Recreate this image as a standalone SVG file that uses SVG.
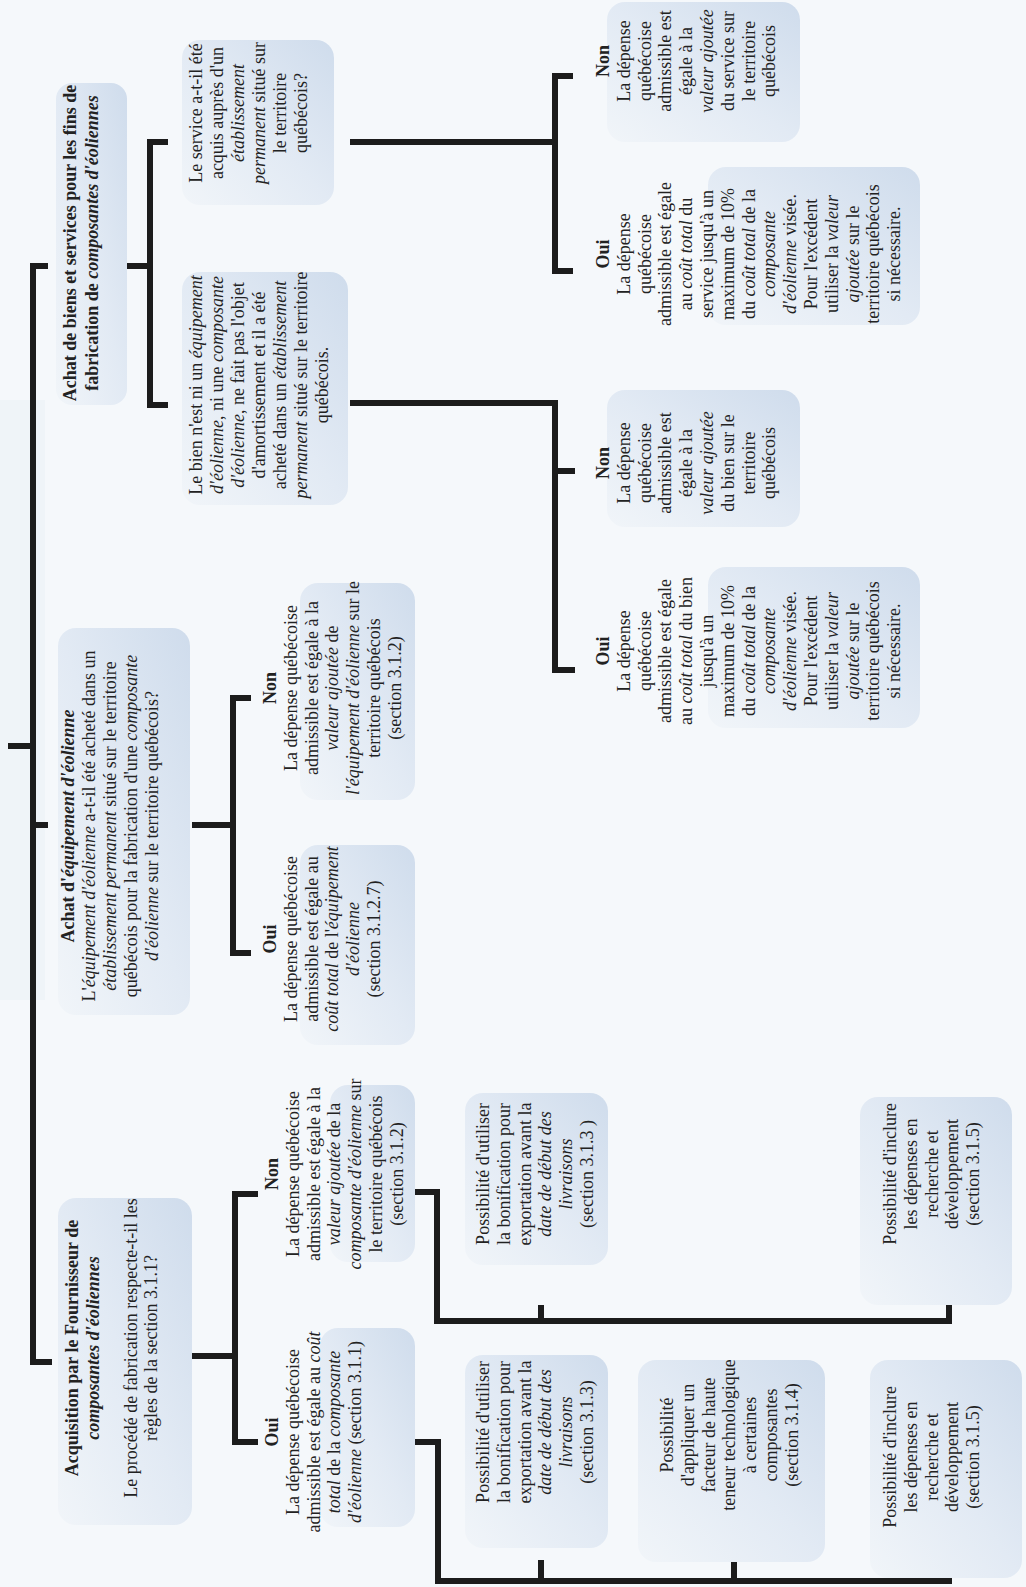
<svg xmlns="http://www.w3.org/2000/svg" width="1026" height="1587" viewBox="0 0 1026 1587">
<style>
.t{font-family:"Liberation Serif","Times New Roman",serif;font-size:18px;fill:#222;text-anchor:middle}
.b{font-weight:bold}
.i{font-style:italic}
.box{fill:url(#bg)}
.c{fill:none;stroke:#1c1c1c;stroke-width:6;stroke-linejoin:miter;stroke-linecap:butt}
</style>
<defs>
<linearGradient id="bg" x1="1" y1="0" x2="0" y2="1">
<stop offset="0" stop-color="#cfdcec"/>
<stop offset="0.5" stop-color="#e2eaf4"/>
<stop offset="1" stop-color="#f1f5f9"/>
</linearGradient>
</defs>
<rect width="1026" height="1587" fill="#f5f8fb"/>
<rect x="0" y="400" width="45" height="600" fill="#e9eff6" opacity="0.5"/>

<g id="connectors">
<path class="c" d="M8,746 H33 M48,266 H33 V1362 H52 M33,825 H48"/>
<path class="c" d="M127,266 H150 M168,142 H150 V405 H168"/>
<path class="c" d="M350,142 H555 M573,76 H555 V271 H573"/>
<path class="c" d="M350,403 H555 V670 H575 M555,471 H575"/>
<path class="c" d="M192,825 H233 M251,698 H233 V953 H251"/>
<path class="c" d="M192,1356 H235 M258,1194 H235 V1442 H258"/>
<path class="c" d="M415,1442 H438 V1581 H949 V1557 M541,1581 V1560 M734,1581 V1560"/>
<path class="c" d="M415,1192 H437 V1321 H949 V1300 M541,1321 V1305"/>
</g>

<g id="n_biens_services">
<rect class="box" x="56" y="83" width="71" height="322" rx="16"/>
<g transform="translate(0,243) rotate(-90)">
<text class="t b" x="0" y="76">Achat de biens et services pour les fins de</text>
<text class="t b" x="0" y="98">fabrication de <tspan class="i">composantes d'éoliennes</tspan></text>
</g>
</g>

<g id="n_service_q">
<rect class="box" x="182" y="40" width="152" height="165" rx="18"/>
<g transform="translate(0,113) rotate(-90)">
<text class="t" x="0" y="202">Le service a-t-il été</text>
<text class="t" x="0" y="223">acquis auprès d'un</text>
<text class="t i" x="0" y="244">établissement</text>
<text class="t" x="0" y="265"><tspan class="i">permanent</tspan> situé sur</text>
<text class="t" x="0" y="286">le territoire</text>
<text class="t" x="0" y="307">québécois?</text>
</g>
</g>

<g id="n_bien_q">
<rect class="box" x="182" y="272" width="166" height="233" rx="18"/>
<g transform="translate(0,385) rotate(-90)">
<text class="t" x="0" y="202">Le bien n'est ni un <tspan class="i">équipement</tspan></text>
<text class="t" x="0" y="223"><tspan class="i">d'éolienne</tspan>, ni une <tspan class="i">composante</tspan></text>
<text class="t" x="0" y="244"><tspan class="i">d'éolienne</tspan>, ne fait pas l'objet</text>
<text class="t" x="0" y="265">d'amortissement et il a été</text>
<text class="t" x="0" y="286">acheté dans un <tspan class="i">établissement</tspan></text>
<text class="t" x="0" y="307"><tspan class="i">permanent</tspan> situé sur le territoire</text>
<text class="t" x="0" y="328">québécois.</text>
</g>
</g>

<g id="n_service_non">
<rect class="box" x="607" y="2" width="193" height="140" rx="18"/>
<g transform="translate(0,61) rotate(-90)">
<text class="t b" x="0" y="609">Non</text>
<text class="t" x="0" y="630">La dépense</text>
<text class="t" x="0" y="651">québécoise</text>
<text class="t" x="0" y="671">admissible est</text>
<text class="t" x="0" y="692">égale à la</text>
<text class="t i" x="0" y="713">valeur ajoutée</text>
<text class="t" x="0" y="734">du service sur</text>
<text class="t" x="0" y="755">le territoire</text>
<text class="t" x="0" y="775">québécois</text>
</g>
</g>

<g id="n_service_oui">
<rect class="box" x="708" y="167" width="212" height="158" rx="18"/>
<g transform="translate(0,254) rotate(-90)">
<text class="t b" x="0" y="609">Oui</text>
<text class="t" x="0" y="630">La dépense</text>
<text class="t" x="0" y="651">québécoise</text>
<text class="t" x="0" y="671">admissible est égale</text>
<text class="t" x="0" y="692">au <tspan class="i">coût total</tspan> du</text>
<text class="t" x="0" y="713">service jusqu'à un</text>
<text class="t" x="0" y="734">maximum de 10%</text>
<text class="t" x="0" y="755">du <tspan class="i">coût total</tspan> de la</text>
<text class="t i" x="0" y="775">composante</text>
<text class="t" x="0" y="796"><tspan class="i">d'éolienne</tspan> visée.</text>
<text class="t" x="0" y="817">Pour l'excédent</text>
<text class="t" x="0" y="838">utiliser la <tspan class="i">valeur</tspan></text>
<text class="t" x="0" y="859"><tspan class="i">ajoutée</tspan> sur le</text>
<text class="t" x="0" y="879">territoire québécois</text>
<text class="t" x="0" y="900">si nécessaire.</text>
</g>
</g>

<g id="n_bien_non">
<rect class="box" x="607" y="390" width="193" height="137" rx="18"/>
<g transform="translate(0,463) rotate(-90)">
<text class="t b" x="0" y="609">Non</text>
<text class="t" x="0" y="630">La dépense</text>
<text class="t" x="0" y="651">québécoise</text>
<text class="t" x="0" y="671">admissible est</text>
<text class="t" x="0" y="692">égale à la</text>
<text class="t i" x="0" y="713">valeur ajoutée</text>
<text class="t" x="0" y="734">du bien sur le</text>
<text class="t" x="0" y="755">territoire</text>
<text class="t" x="0" y="775">québécois</text>
</g>
</g>

<g id="n_bien_oui">
<rect class="box" x="708" y="567" width="212" height="161" rx="18"/>
<g transform="translate(0,651) rotate(-90)">
<text class="t b" x="0" y="609">Oui</text>
<text class="t" x="0" y="630">La dépense</text>
<text class="t" x="0" y="651">québécoise</text>
<text class="t" x="0" y="671">admissible est égale</text>
<text class="t" x="0" y="692">au <tspan class="i">coût total</tspan> du bien</text>
<text class="t" x="0" y="713">jusqu'à  un</text>
<text class="t" x="0" y="734">maximum de 10%</text>
<text class="t" x="0" y="755">du <tspan class="i">coût total</tspan> de la</text>
<text class="t i" x="0" y="775">composante</text>
<text class="t" x="0" y="796"><tspan class="i">d'éolienne</tspan> visée.</text>
<text class="t" x="0" y="817">Pour l'excédent</text>
<text class="t" x="0" y="838">utiliser la <tspan class="i">valeur</tspan></text>
<text class="t" x="0" y="859"><tspan class="i">ajoutée</tspan> sur le</text>
<text class="t" x="0" y="879">territoire québécois</text>
<text class="t" x="0" y="900">si nécessaire.</text>
</g>
</g>

<g id="n_equipement">
<rect class="box" x="58" y="628" width="132" height="387" rx="18"/>
<g transform="translate(0,826) rotate(-90)">
<text class="t b" x="0" y="74">Achat d'<tspan class="i">équipement d'éolienne</tspan></text>
<text class="t" x="0" y="95">L'<tspan class="i">équipement d'éolienne</tspan> a-t-il été acheté dans un</text>
<text class="t" x="0" y="116"><tspan class="i">établissement permanent</tspan> situé sur le territoire</text>
<text class="t" x="0" y="137">québécois pour la fabrication d'une <tspan class="i">composante</tspan></text>
<text class="t" x="0" y="158"><tspan class="i">d'éolienne</tspan> sur le territoire québécois?</text>
</g>
</g>

<g id="n_equip_non">
<rect class="box" x="300" y="583" width="115" height="217" rx="18"/>
<g transform="translate(0,688) rotate(-90)">
<text class="t b" x="0" y="276">Non</text>
<text class="t" x="0" y="297">La dépense québécoise</text>
<text class="t" x="0" y="318">admissible est égale à la</text>
<text class="t" x="0" y="338"><tspan class="i">valeur ajoutée</tspan> de</text>
<text class="t" x="0" y="359"><tspan class="i">l'équipement d'éolienne</tspan> sur le</text>
<text class="t" x="0" y="380">territoire québécois</text>
<text class="t" x="0" y="401">(section 3.1.2)</text>
</g>
</g>

<g id="n_equip_oui">
<rect class="box" x="300" y="845" width="115" height="200" rx="18"/>
<g transform="translate(0,939) rotate(-90)">
<text class="t b" x="0" y="276">Oui</text>
<text class="t" x="0" y="297">La dépense québécoise</text>
<text class="t" x="0" y="318">admissible est égale au</text>
<text class="t" x="0" y="338"><tspan class="i">coût total</tspan> de l'<tspan class="i">équipement</tspan></text>
<text class="t i" x="0" y="359">d'éolienne</text>
<text class="t" x="0" y="380">(section 3.1.2.7)</text>
</g>
</g>

<g id="n_acquisition">
<rect class="box" x="58" y="1198" width="134" height="327" rx="18"/>
<g transform="translate(0,1348) rotate(-90)">
<text class="t b" x="0" y="78">Acquisition par le Fournisseur de</text>
<text class="t b i" x="0" y="99">composantes d'éoliennes</text>
<text class="t" x="0" y="137">Le procédé de fabrication respecte-t-il  les</text>
<text class="t" x="0" y="157">règles de la section 3.1.1?</text>
</g>
</g>

<g id="n_acq_non">
<rect class="box" x="330" y="1085" width="85" height="177" rx="18"/>
<g transform="translate(0,1174) rotate(-90)">
<text class="t b" x="0" y="278">Non</text>
<text class="t" x="0" y="299">La dépense québécoise</text>
<text class="t" x="0" y="320">admissible est égale à la</text>
<text class="t" x="0" y="340"><tspan class="i">valeur ajoutée</tspan> de la</text>
<text class="t" x="0" y="361"><tspan class="i">composante d'éolienne</tspan> sur</text>
<text class="t" x="0" y="382">le territoire québécois</text>
<text class="t" x="0" y="403">(section 3.1.2)</text>
</g>
</g>

<g id="n_acq_oui">
<rect class="box" x="320" y="1328" width="95" height="199" rx="18"/>
<g transform="translate(0,1432) rotate(-90)">
<text class="t b" x="0" y="278">Oui</text>
<text class="t" x="0" y="299">La dépense québécoise</text>
<text class="t" x="0" y="320">admissible est égale au <tspan class="i">coût</tspan></text>
<text class="t" x="0" y="340"><tspan class="i">total</tspan> de la <tspan class="i">composante</tspan></text>
<text class="t" x="0" y="361"><tspan class="i">d'éolienne</tspan> (section 3.1.1)</text>
</g>
</g>

<g id="n_export_1">
<rect class="box" x="465" y="1093" width="143" height="172" rx="18"/>
<g transform="translate(0,1174) rotate(-90)">
<text class="t" x="0" y="489">Possibilité d'utiliser</text>
<text class="t" x="0" y="510">la bonification pour</text>
<text class="t" x="0" y="531">exportation avant la</text>
<text class="t i" x="0" y="551">date de début des</text>
<text class="t i" x="0" y="572">livraisons</text>
<text class="t" x="0" y="593">(section 3.1.3 )</text>
</g>
</g>

<g id="n_rd_1">
<rect class="box" x="860" y="1097" width="152" height="208" rx="18"/>
<g transform="translate(0,1174) rotate(-90)">
<text class="t" x="0" y="896">Possibilité d'inclure</text>
<text class="t" x="0" y="917">les dépenses en</text>
<text class="t" x="0" y="938">recherche et</text>
<text class="t" x="0" y="958">développement</text>
<text class="t" x="0" y="979">(section 3.1.5)</text>
</g>
</g>

<g id="n_export_2">
<rect class="box" x="465" y="1355" width="143" height="193" rx="18"/>
<g transform="translate(0,1432) rotate(-90)">
<text class="t" x="0" y="489">Possibilité d'utiliser</text>
<text class="t" x="0" y="510">la bonification pour</text>
<text class="t" x="0" y="531">exportation avant la</text>
<text class="t i" x="0" y="551">date de début des</text>
<text class="t i" x="0" y="572">livraisons</text>
<text class="t" x="0" y="593">(section 3.1.3)</text>
</g>
</g>

<g id="n_haute_tech">
<rect class="box" x="638" y="1360" width="187" height="202" rx="18"/>
<g transform="translate(0,1435) rotate(-90)">
<text class="t" x="0" y="673">Possibilité</text>
<text class="t" x="0" y="694">d'appliquer un</text>
<text class="t" x="0" y="715">facteur de haute</text>
<text class="t" x="0" y="735">teneur technologique</text>
<text class="t" x="0" y="756">à certaines</text>
<text class="t" x="0" y="777">composantes</text>
<text class="t" x="0" y="798">(section 3.1.4)</text>
</g>
</g>

<g id="n_rd_2">
<rect class="box" x="870" y="1360" width="152" height="218" rx="18"/>
<g transform="translate(0,1457) rotate(-90)">
<text class="t" x="0" y="896">Possibilité d'inclure</text>
<text class="t" x="0" y="917">les dépenses en</text>
<text class="t" x="0" y="938">recherche et</text>
<text class="t" x="0" y="958">développement</text>
<text class="t" x="0" y="979">(section 3.1.5)</text>
</g>
</g>
</svg>
